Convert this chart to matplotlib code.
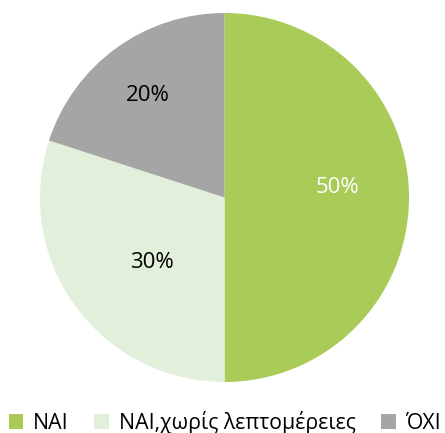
import numpy as np
import matplotlib; matplotlib.use("Agg")
import matplotlib.pyplot as plt

labels = ["NAI", "NAI,χωρίς λεπτομέρειες", "ΌΧΙ"]
values = [50, 30, 20]
colors = ["#A9CB58", "#E2EFDA", "#A5A5A5"]
pct_colors = ["white", "black", "black"]
pct_dist = [0.617, 0.53, 0.69]
pct_shift = [5, 6, 1]  # degrees, label nudges like the original

plt.rcParams["font.family"] = ["Open Sans", "DejaVu Sans"]

fig = plt.figure(figsize=(4.45, 4.33), dpi=100)
ax = fig.add_axes([40 / 445, 51 / 433, 369 / 445, 369 / 433])
wedges, _ = ax.pie(values, colors=colors, startangle=90, counterclock=False,
                   radius=1, wedgeprops=dict(linewidth=0))
ax.set_xlim(-1, 1); ax.set_ylim(-1, 1); ax.set_aspect("equal"); ax.axis("off")

tot = sum(values)
for w, v, c, d, s in zip(wedges, values, pct_colors, pct_dist, pct_shift):
    th = np.deg2rad((w.theta1 + w.theta2) / 2 + s)
    ax.text(d * np.cos(th), d * np.sin(th), f"{round(100 * v / tot)}%",
            ha="center", va="center", color=c, fontsize=16)

fig.legend(wedges, labels, loc="lower center", bbox_to_anchor=(0.505, -0.047),
           ncol=3, frameon=False, fontsize=15.3, handlelength=0.7, handleheight=0.7,
           handletextpad=0.45, columnspacing=1.2)
fig.savefig("out.png", dpi=100)
